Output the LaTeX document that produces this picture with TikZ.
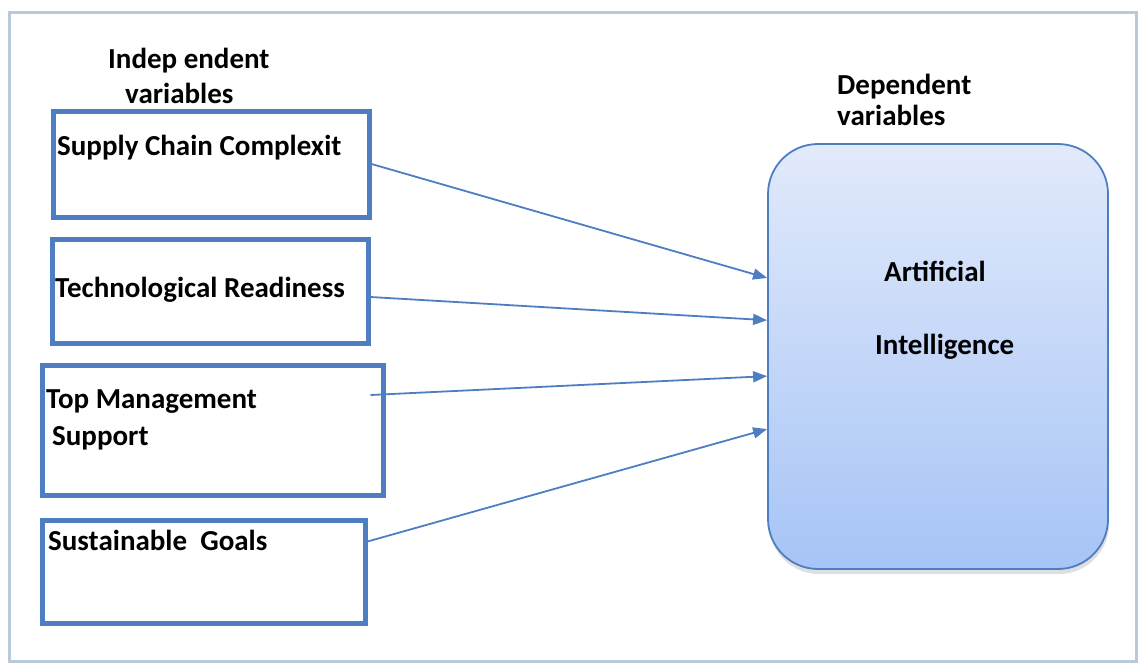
\documentclass[tikz,border=0pt]{standalone}
\usepackage{fontspec}
\setmainfont{Carlito}
\usetikzlibrary{arrows.meta, calc, shadows}
\definecolor{boxblue}{RGB}{78,126,194}
\definecolor{framegray}{RGB}{186,201,220}
\definecolor{aitop}{RGB}{226,234,251}
\definecolor{aibottom}{RGB}{166,196,246}

\begin{document}
\begin{tikzpicture}[x = 1pt, y = -1pt,
    ivbox/.style = {draw = boxblue, line width = 5pt, rectangle, inner sep = 0pt},
    dvbox/.style = {draw = boxblue, line width = 1.8pt, rounded corners = 50pt,
                    top color = aitop, bottom color = aibottom,
                    drop shadow = {shadow xshift = 1pt, shadow yshift = -5pt, opacity = 0.25, fill = black!50}},
    txt/.style = {anchor = base west, inner sep = 0pt, font = \fontsize{29}{33}\selectfont\bfseries},
    link/.style = {draw = boxblue, line width = 1.8pt, -{Triangle[length = 14pt, width = 11pt]}}]
      \useasboundingbox (0,0) rectangle (1139,664);
      \draw[framegray, line width = 3pt] (9,12) rectangle (1136,661);

      % independent variables
      \node[ivbox, minimum width = 316pt, minimum height = 106pt] (scc) at (211,164)   {};
      \node[ivbox, minimum width = 316pt, minimum height = 104pt] (tr)  at (210,291)   {};
      \node[ivbox, minimum width = 341pt, minimum height = 130pt] (tms) at (212.5,430) {};
      \node[ivbox, minimum width = 323pt, minimum height = 103pt] (sg)  at (203.5,571.5) {};

      % dependent variable
      \node[dvbox, minimum width = 340pt, minimum height = 425pt] (ai) at (938,356.5) {};

      % headings and box texts
      \node[txt] (ivhead1) at (108,68)  {Indep endent};
      \node[txt] (ivhead2) at (125,103) {variables};
      \node[txt] (dvhead1) at (837,94)  {Dependent};
      \node[txt] (dvhead2) at (837,125) {variables};
      \node[txt] (scctxt)  at (57,155)  {Supply Chain Complexit};
      \node[txt] (trtxt)   at (55,297)  {Technological Readiness};
      \node[txt] (tmstxt1) at (46,408)  {Top Management};
      \node[txt] (tmstxt2) at (52,445)  {Support};
      \node[txt] (sgtxt)   at (48,550)  {Sustainable\ \ Goals};
      \node[txt] (aitxt1)  at (884,281) {Artificial};
      \node[txt] (aitxt2)  at (875,354) {Intelligence};

      % links into the dependent variable
      \path[link] (scc.east) -- ($(ai.north west)!0.316!(ai.south west)$);
      \path[link] ($(tr.east)+(0,6)$) -- ($(ai.north west)!0.415!(ai.south west)$);
      \path[link] ($(tms.east)+(-15,-35)$) -- ($(ai.north west)!0.546!(ai.south west)$);
      \path[link] ($(sg.east)+(0,-30)$) -- ($(ai.north west)!0.67!(ai.south west)$);

    \end{tikzpicture}
\end{document}
